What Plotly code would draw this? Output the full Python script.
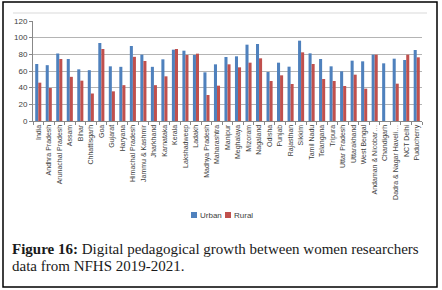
import plotly.graph_objects as go

categories = ["India", "Andhra Pradesh", "Arunachal Pradesh", "Assam", "Bihar", "Chhattisgarh",
              "Goa", "Gujarat", "Haryana", "Himachal Pradesh", "Jammu & Kashmir", "Jharkhand",
              "Karnataka", "Kerala", "Lakshadweep", "Ladakh", "Madhya Pradesh", "Maharashtra",
              "Manipur", "Meghalaya", "Mizoram", "Nagaland", "Odisha", "Punjab", "Rajasthan",
              "Sikkim", "Tamil Nadu", "Telangana", "Tripura", "Uttar Pradesh", "Uttarakhand",
              "West Bengal", "Andaman & Nicobar…", "Chandigarh", "Dadra & Nagar Haveli…",
              "NCT Delhi", "Puducherry"]

urban = [68.4, 67, 81, 74.4, 62, 61, 93.6, 65.6, 65, 90, 79.6, 65, 74, 85.6, 84.4, 79.2,
         58.4, 68, 76.8, 77.6, 91.6, 92.4, 58.8, 70, 65.2, 96.4, 81.2, 74.4, 65.6, 59.6,
         72.4, 71.6, 79.6, 69.2, 74.8, 73.2, 85.2]
rural = [46, 39.6, 74.4, 53, 48.4, 33, 86.4, 35.6, 43, 77, 72, 43, 53.6, 86.4, 79.2, 80.8,
         31.2, 42.4, 68, 64.4, 70, 75.2, 48, 54.8, 44.4, 82.4, 68.4, 50.4, 48, 42,
         55.6, 38.8, 79.6, None, 44.8, 79.6, 76.4]

y_ticks = [0, 20, 40, 60, 80, 100, 120]

series_names = ["Urban", "Rural"]
series_colors = ["#4F81BD", "#C0504D"]

W, H = 442, 290
L, R, T, B = 33, 422, 21, 121  # plot area in pixels


def px(x):
    return (x - L) / (R - L)


def py(y):
    return (B - y) / (B - T)


fig = go.Figure()
for name, vals, col in zip(series_names, [urban, rural], series_colors):
    fig.add_trace(go.Bar(name=name, x=categories, y=vals, marker_color=col,
                         marker_line_width=0))

fig.update_layout(
    width=W, height=H,
    margin=dict(l=L, r=W - R, t=T, b=H - B, pad=0),
    paper_bgcolor="white", plot_bgcolor="white",
    barmode="group", bargap=0.42, bargroupgap=0,
    font=dict(family="Liberation Sans, Arial, sans-serif", color="#404040"),
    showlegend=False,
    xaxis=dict(tickangle=-90, tickfont=dict(size=7, color="#404040"),
               showgrid=False, showline=True, linecolor="#888888", linewidth=1,
               ticks="outside", tickson="boundaries", ticklen=3, tickcolor="#888888",
               automargin=False),
    yaxis=dict(range=[0, 120], tickvals=y_ticks, tickfont=dict(size=8, color="#404040"),
               showgrid=True, gridcolor="#B4B4B4", gridwidth=1,
               showline=True, linecolor="#888888", linewidth=1,
               ticks="outside", ticklen=3, tickcolor="#888888", zeroline=False,
               automargin=False),
)

# manual legend
leg_x = [191, 225]
for lx, name, col in zip(leg_x, series_names, series_colors):
    fig.add_shape(type="rect", xref="paper", yref="paper", x0=px(lx), x1=px(lx + 6),
                  y0=py(218), y1=py(212), line=dict(width=0), fillcolor=col)
    fig.add_annotation(xref="paper", yref="paper", x=px(lx + 7), y=py(215), xanchor="left",
                       yanchor="middle", showarrow=False, text=name,
                       font=dict(size=8, color="#404040"))

# light chart-area border line at top
fig.add_shape(type="line", xref="paper", yref="paper", x0=px(13), x1=px(427),
              y0=py(13), y1=py(13), line=dict(color="#D9D9D9", width=1))
# outer frame
fig.add_shape(type="rect", xref="paper", yref="paper", x0=px(3), x1=px(437),
              y0=py(287), y1=py(2), line=dict(color="black", width=1.5))

cap_font = dict(family="Liberation Serif, Times New Roman, serif", size=15, color="#1a1a1a")
fig.add_annotation(xref="paper", yref="paper", x=px(10), y=py(249), xanchor="left",
                   yanchor="middle", showarrow=False, font=cap_font,
                   text="<b>Figure 16:</b> Digital pedagogical growth between women researchers")
fig.add_annotation(xref="paper", yref="paper", x=px(10), y=py(266), xanchor="left",
                   yanchor="middle", showarrow=False, font=cap_font,
                   text="data from NFHS 2019-2021.")

fig.write_html("out.html", config={"displayModeBar": False},
               post_script="document.body.style.margin='0';")
